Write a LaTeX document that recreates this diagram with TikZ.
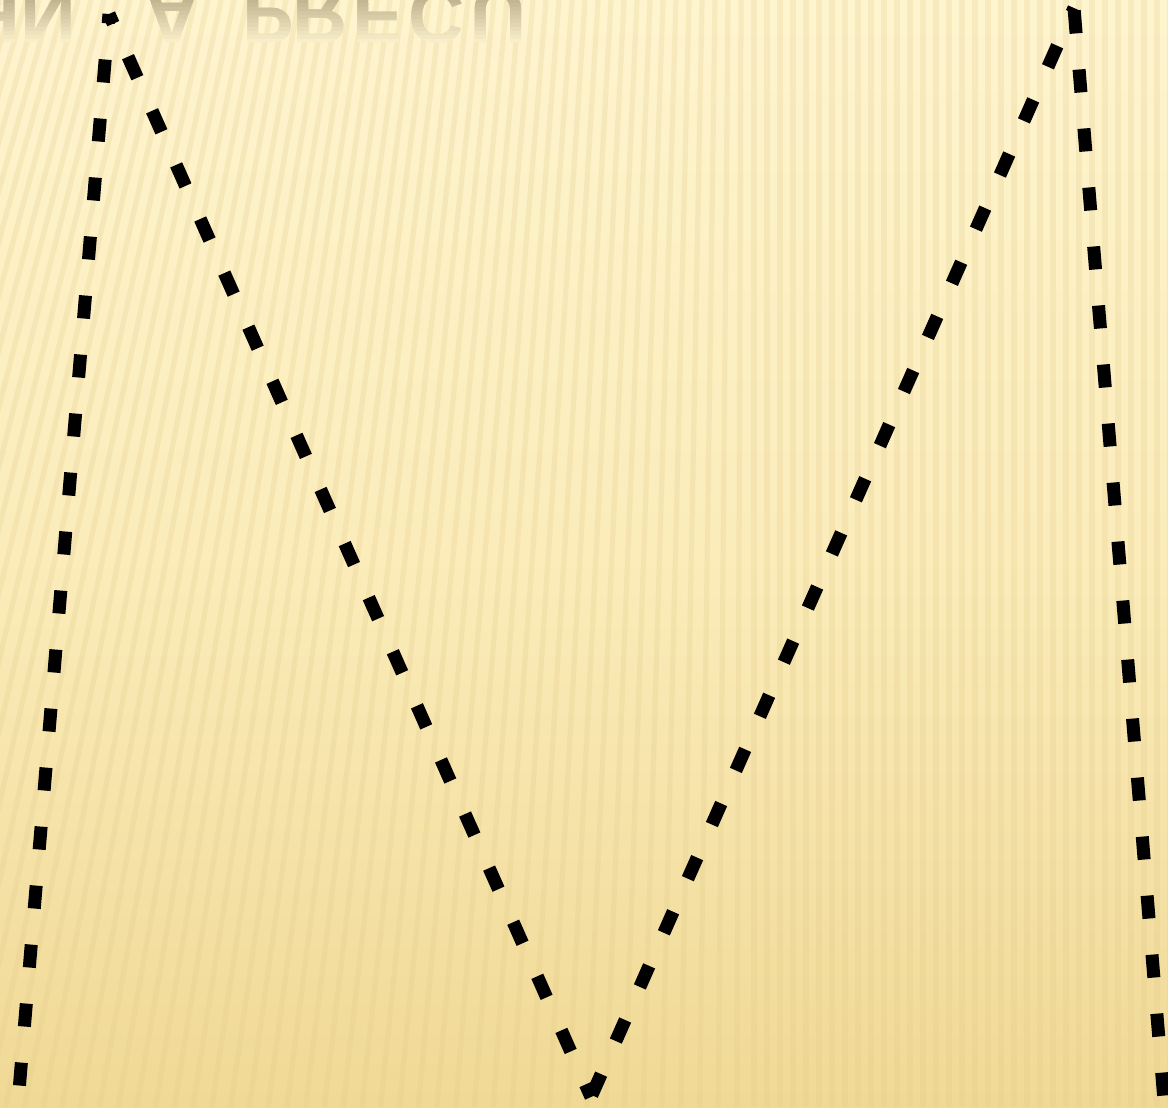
\documentclass[tikz,border=0pt]{standalone}
\usepackage{fontspec}
\setmainfont{Liberation Sans}
\definecolor{bgtop}{RGB}{254,244,206}
\definecolor{bgmid}{RGB}{251,236,186}
\definecolor{bgbot}{RGB}{240,217,150}
\definecolor{stripe}{RGB}{224,200,136}
\definecolor{refl}{RGB}{194,182,146}
\tikzset{
  dashline/.style={line width=7.4pt, black, dash pattern=on 13.1pt off 20.6pt},
  letter/.style={font=\bfseries\fontsize{44}{44}\selectfont, yscale=-1, anchor=base, inner sep=0pt},
  stripeline/.style={stripe, opacity=0.22, line width=3pt}
}
\begin{document}
\begin{tikzpicture}[x=0.02cm,y=-0.02cm]
\useasboundingbox (0,0) rectangle (1168,1107);
\clip (0,0) rectangle (1168,1107);
% background
\shade[top color=bgtop, bottom color=bgbot, middle color=bgmid] (0,0) rectangle (1168,1107);
\foreach \x in {-364,-351,...,1180}{
  \pgfmathsetmacro{\s}{max(0,0.3*(1-\x/750))}
  \draw[stripeline] (\x,0) -- ({\x-\s*1107},1107);
}
% reflected title, fading downwards (drawn in horizontal bands)
\foreach \i in {0,...,11}{
  \pgfmathtruncatemacro{\pc}{100-\i*9}
  \begin{scope}
    \clip (-20,{\i*4-0.5}) rectangle (620,{\i*4+4});
    \colorlet{reflband}{refl!\pc!bgtop}
    \node[letter, text=reflband] at (-8,-11) {H};
    \node[letter, text=reflband] at (48,-11) {N};
    \node[letter, text=reflband] at (172,-11) {A};
    \node[letter, text=reflband] at (268,-11) {P};
    \node[letter, text=reflband] at (320,-11) {R};
    \node[letter, text=reflband] at (378,-11) {E};
    \node[letter, text=reflband] at (436,-11) {C};
    \node[letter, text=reflband] at (498,-11) {U};
  \end{scope}
}
% zigzag dashed line
\coordinate (p1) at (109,14);
\coordinate (b0) at (17,1115);
\coordinate (v) at (591,1097);
\coordinate (p2) at (1074,8);
\coordinate (b3) at (1166,1125);
\draw[dashline, dash phase=7.7pt] (p1) -- (b0);
\draw[dashline, dash phase=7.1pt] (p1) -- (v);
\draw[dashline, dash phase=10.2pt] (p2) -- (v);
\draw[dashline, dash phase=32.3pt] (p2) -- (b3);
\end{tikzpicture}
\end{document}
